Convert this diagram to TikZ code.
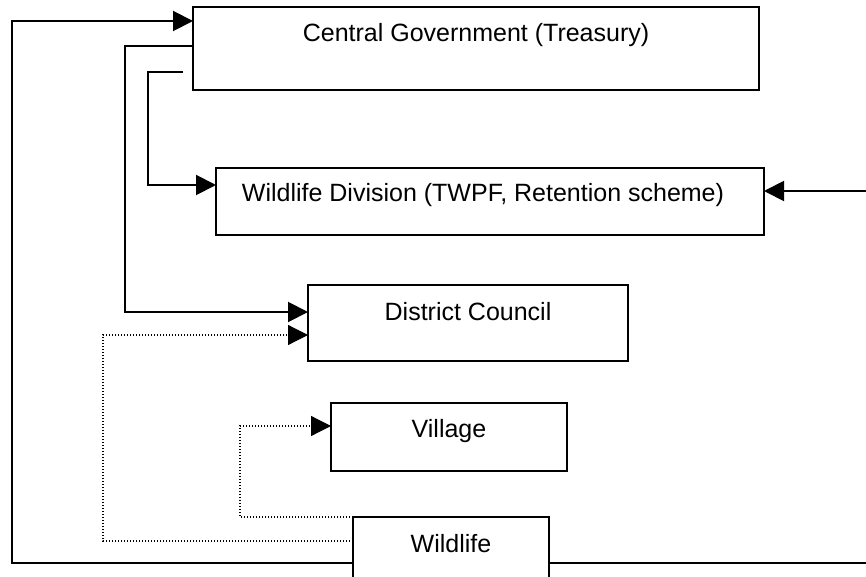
\documentclass[tikz,border=0pt]{standalone}
\usepackage{fontspec}
\setmainfont{Liberation Sans}
\usetikzlibrary{arrows.meta,calc}
\tikzset{
  box/.style={draw, line width=1.5pt, anchor=north west, inner sep=0pt, outer sep=0pt},
  lbl/.style={anchor=base, inner sep=0pt, font=\fontsize{25}{30}\selectfont},
  conn/.style={line width=2pt},
  dotconn/.style={line width=1.2pt, dash pattern=on 1.2pt off 1.8pt},
  tip/.style={-{Triangle[length=20pt,width=20pt]}}
}
\begin{document}
\begin{tikzpicture}[x=1pt,y=-1pt]
\clip (0,0) rectangle (866,577);
\fill[white] (0,0) rectangle (866,577);
% boxes
\node[box, minimum width=566pt, minimum height=83pt] (cg) at (193,7) {};
\node[box, minimum width=548pt, minimum height=67pt] (wd) at (216,168) {};
\node[box, minimum width=320pt, minimum height=76pt] (dc) at (308,285) {};
\node[box, minimum width=236pt, minimum height=68pt] (vil) at (331,403) {};
\node[box, minimum width=196pt, minimum height=90pt] (wl) at (353,517) {};
% labels
\node[lbl] (cgt) at ($(cg.north)+(0,34.5)$) {Central Government (Treasury)};
\node[lbl] (wdt) at ($(wd.north)+(-7,33.5)$) {Wildlife Division (TWPF, Retention scheme)};
\node[lbl] (dct) at ($(dc.north)+(0,35)$) {District Council};
\node[lbl] (vilt) at ($(vil.north)+(0,34.5)$) {Village};
\node[lbl] (wlt) at ($(wl.north)+(0,35)$) {Wildlife};
% free ends
\coordinate (s3) at (183,72);
\coordinate (e1) at (866,191);
\coordinate (e2) at (866,563);
% connectors
\draw[conn, tip] (wl.west |- 0,563) -| (12,21) -- (cg.west |- 0,21);
\draw[conn] (wl.east |- 0,563) -- (e2);
\draw[conn, tip] (cg.west |- 0,46) -| (125,312) -- (dc.west |- 0,312);
\draw[conn, tip] (s3) -| (148,185) -- (wd.west |- 0,185);
\draw[conn, tip] (e1) -- (wd.east |- 0,191);
\draw[dotconn, tip] (wl.west |- 0,541) -| (103,335) -- (dc.west |- 0,335);
\draw[dotconn, tip] (wl.west |- 0,517) -| (240,426) -- (vil.west |- 0,426);
\end{tikzpicture}
\end{document}
